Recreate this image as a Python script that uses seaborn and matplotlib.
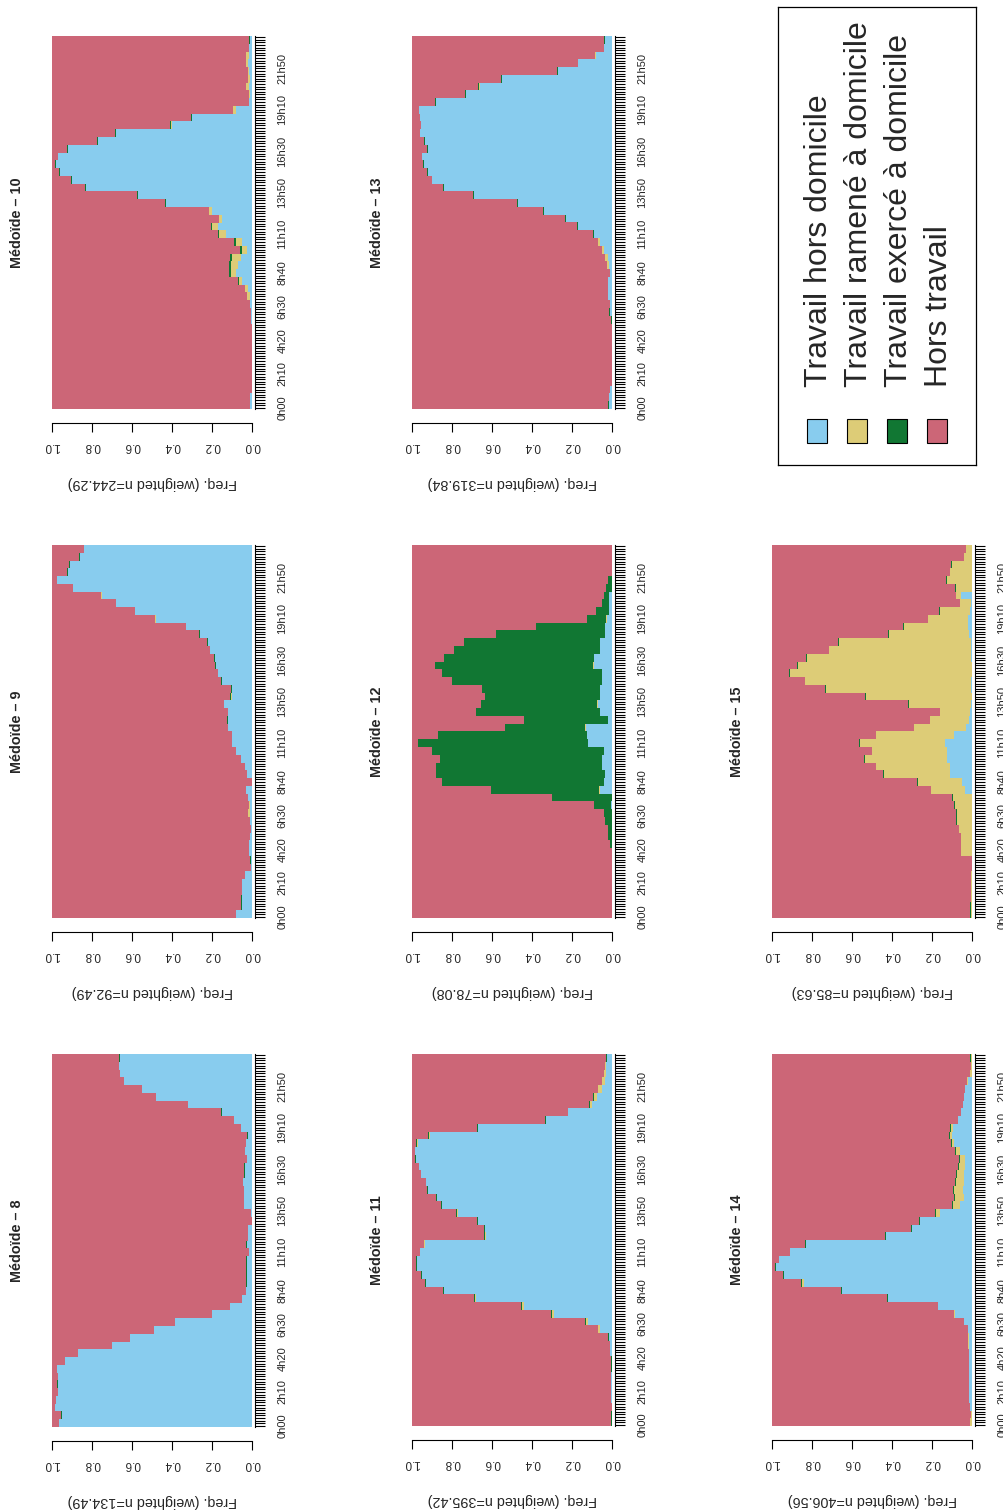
import numpy as np
import pandas as pd
import matplotlib
matplotlib.use('Agg')
import matplotlib.pyplot as plt
from matplotlib.patches import Rectangle
import seaborn as sns

# states, bottom of the stack first
states = ['Travail hors domicile', 'Travail ramené à domicile',
          'Travail exercé à domicile', 'Hors travail']
colors = ['#88CCEE', '#DDCC77', '#117733', '#CC6677']

hour_labels = ['0h00', '2h10', '4h20', '6h30', '8h40', '11h10',
               '13h50', '16h30', '19h10', '21h50']
freq_ticks = [0.0, 0.2, 0.4, 0.6, 0.8, 1.0]

# share of sequences (%) per half-hour, 0h00 -> 23h30; "Hors travail" is the rest
m8_blue = [96.5, 95, 98.5, 98, 97, 97, 97, 97.5, 93.5, 87,
           70, 61, 49, 38.5, 20, 11, 5, 3, 2.6, 2.5,
           2.5, 2.5, 1.5, 2.5, 1.8, 1.8, 0, 0.6, 3.8, 3.8,
           3.8, 4.5, 3.5, 3.5, 2.7, 3.5, 3, 2.2, 5.5, 9,
           15, 32, 48, 55, 64, 66, 66.5, 66]
m8_yellow = [0, 0, 0, 0, 0, 0, 0, 0, 0, 0, 0, 0, 0, 0, 0, 0, 0, 0, 0, 0, 0, 0, 0, 0,
             0, 0, 0, 0, 0, 0, 0, 0, 0, 0, 0, 0, 0, 0, 0, 0, 0, 0, 0, 0, 0, 0, 0, 0]
m8_green = [0, 0.4, 0, 0, 0, 0.4, 0, 0, 0, 0, 0, 0, 0, 0, 0, 0, 0, 0, 0.4, 0.4, 0.4, 0.4, 0, 0.4,
            0, 0, 0, 0, 0.4, 0.4, 0.4, 0, 0.4, 0.4, 0, 0, 0, 0.4, 0, 0, 0.4, 0, 0, 0, 0, 0, 0, 0.4]

m9_blue = [8, 5, 5, 5, 5, 3.5, 0.5, 0.5, 1.5, 1.5,
           1.2, 0.5, 1, 1, 1.2, 2, 3, 0, 2.5, 3.5,
           5.5, 8, 10, 10, 12, 12, 12, 14, 10, 10,
           15, 17, 18, 18.5, 21, 22, 26, 33, 48, 58.5,
           68, 75, 89.5, 97.5, 92, 91, 86, 84]
m9_yellow = [0, 0, 0, 0, 0, 0, 0, 0, 0, 0, 0, 0, 0, 1, 0.5, 0, 0, 0, 0, 0, 0, 0, 0, 0,
             0, 0, 0, 0, 0.5, 0, 0, 0, 0, 0, 0, 0, 0, 0, 0.3, 0, 0, 0.5, 0, 0, 0, 0, 0, 0]
m9_green = [0, 0.3, 0.3, 0, 0, 0, 0, 0.3, 0, 0, 0, 0, 0, 0, 0, 0, 0, 0, 0, 0, 0, 0, 0, 0,
            0, 0.4, 0, 0, 0.4, 0.4, 0.4, 0, 0.4, 0.4, 0, 0.4, 0.4, 0, 0.4, 0, 0, 0, 0, 0, 0.4, 0.4, 0.4, 0]

m10_blue = [1, 1, 0, 0, 0, 0, 0, 0, 0, 0,
            0, 0.5, 0.5, 1, 1, 2, 5, 8, 7, 5.5,
            2.7, 5, 13, 17, 15, 20, 43, 57, 83, 90,
            96, 98, 97, 92, 77, 68, 40, 30, 8, 1.5,
            1, 1.5, 1, 1.5, 2, 1.5, 1.5, 1]
m10_yellow = [0, 0, 0, 0, 0, 0, 0, 0, 0, 0, 0, 0, 0, 0, 1.5, 1.5, 1.5, 2.5, 3.5, 4.5, 2.5, 3, 3.5, 3,
              1.5, 1.5, 0, 0, 0, 0, 0, 0, 0, 0, 0, 0, 0.5, 0, 1.5, 0, 0.5, 1.5, 1, 0.5, 1, 1.5, 0, 0]
m10_green = [0, 0, 0, 0, 0, 0, 0, 0, 0, 0, 0, 0, 0, 0, 0, 0, 0.7, 1, 1, 1, 1, 1, 0.7, 0.5,
             0, 0, 0.4, 0.4, 0.4, 0.4, 0.4, 0.4, 0, 0.4, 0.4, 0.4, 0.4, 0.4, 0, 0, 0, 0, 0, 0, 0, 0, 0, 0.4]

m11_blue = [0, 0, 0, 0.5, 0.5, 0.5, 0.5, 0, 0, 0.8,
            1, 1.3, 6, 12, 29, 44, 68, 84, 93, 95,
            97.5, 97.5, 96, 93.5, 63, 63.5, 67, 77, 85, 87.5,
            92, 93, 95.5, 96.5, 98, 98.5, 97, 91, 67, 33,
            22, 10, 7.5, 5, 3.5, 3, 3, 2.5]
m11_yellow = [0, 0, 0, 0, 0, 0, 0, 0, 0, 0, 0, 0, 1, 1, 1, 1, 0.5, 0, 0, 0, 0, 0, 0, 0.5,
              0.5, 0, 0, 0.5, 0, 0, 0, 0, 0, 0, 0, 0, 0.5, 0.5, 0, 0, 0, 1, 1.5, 2, 1.5, 1, 0.5, 0]
m11_green = [0.5, 0.5, 0, 0, 0, 0, 0, 0.5, 0.5, 0, 0, 0.5, 0, 0.4, 0.4, 0.4, 0.4, 0.4, 0.4, 0.4, 0.4, 0.4, 0, 0,
             0.4, 0.4, 0.4, 0.4, 0.4, 0.4, 0.4, 0, 0, 0, 0.4, 0, 0.4, 0.4, 0.4, 0.4, 0, 0.4, 0.4, 0, 0, 0, 0, 0.5]

m12_blue = [0, 0, 0, 0, 0, 0, 0, 0, 0, 0,
            0, 0, 0, 0, 0.5, 0, 6, 4, 3.5, 5,
            5, 4, 12, 12.5, 13, 2, 6, 7, 6, 6,
            5, 5, 9, 9, 6, 6, 3.5, 3.5, 2.5, 1.5,
            1.5, 1.5, 0, 0, 0, 0, 0, 0]
m12_yellow = [0, 0, 0, 0, 0, 0, 0, 0, 0, 0, 0, 0, 0, 0, 0, 0, 0.3, 0, 0, 0, 0, 0, 0, 0,
              0.3, 0, 0, 0.3, 0, 0, 0, 0, 0.3, 0, 0, 0, 0, 0, 0.3, 0, 0, 0, 0, 0, 0, 0, 0, 0]
m12_green = [0, 0, 0, 0, 0, 0, 0, 0, 0, 1,
             2, 2, 3.5, 4, 8.5, 30, 54, 81, 84.5, 83,
             81, 86, 85, 74.5, 40, 42, 62, 58, 57.5, 59,
             75, 80, 79, 75, 73, 68, 54.5, 34.5, 9.5, 6.5,
             3.5, 2.5, 3, 2, 0, 0, 0, 0]

m13_blue = [1.5, 1.3, 1, 0, 0, 0, 0, 0, 0, 0,
            0, 0, 1, 1, 1.8, 2, 2, 1, 1.5, 2,
            4, 6, 9, 17, 23, 34, 47, 69, 84, 90,
            92, 94, 95, 92, 93.5, 96, 95.5, 96, 96.5, 88,
            73, 66, 55, 27, 17, 8, 4, 3.5]
m13_yellow = [0, 0, 0, 0, 0, 0, 0, 0, 0, 0, 0, 0, 0, 0, 0, 0, 0, 0, 1, 1.3, 1, 0.8, 0, 0,
              0, 0, 0, 0, 0, 0, 0, 0, 0, 0, 0, 0, 0, 0, 0, 0, 0, 0.5, 0, 0, 0, 0.5, 0, 0]
m13_green = [0.3, 0, 0, 0, 0, 0, 0, 0, 0, 0, 0, 0.5, 0.5, 0, 0, 0, 0, 0, 0, 0.3, 0, 0, 0.4, 0.4,
             0.4, 0.4, 0.4, 0.4, 0.4, 0, 0.4, 0.4, 0, 0.4, 0.4, 0, 0, 0, 0, 0.4, 0.4, 0.4, 0.4, 0.4, 0, 0, 0, 0.5]

m14_blue = [0, 0, 1, 1.5, 1.5, 1.5, 1.5, 1.5, 1.5, 1.5,
            1.5, 1.5, 1.8, 4, 8.5, 17, 42, 65, 84, 94,
            98, 96.5, 91, 83, 43, 30, 26, 16, 6, 4,
            4.5, 4, 4, 3.5, 3.5, 6, 9, 10, 9.5, 7,
            5.5, 4.5, 4, 3.5, 2, 0, 0, 0]
m14_yellow = [1, 0.5, 0, 0, 0, 0, 0, 0, 0, 0, 0.5, 0.5, 0, 0, 0.5, 0, 0, 0, 1, 0, 0, 0, 0, 0,
              0, 0, 0, 2, 3.5, 4.5, 4.5, 4, 3.5, 3, 2.5, 2, 1, 1, 1, 0, 0, 0, 0, 0, 0.5, 1, 0.5, 0.5]
m14_green = [0, 0, 0, 0, 0, 0, 0, 0, 0, 0, 0, 0, 0, 0, 0, 0, 0.4, 0.4, 0.4, 0.4, 0.4, 0, 0, 0.4,
             0.4, 0.4, 0.4, 0.4, 0.4, 0.4, 0.5, 0.5, 0.5, 0.5, 0.5, 0.5, 0.5, 0.5, 0.5, 0, 0, 0, 0, 0, 0, 0, 0, 0.5]

m15_blue = [0, 0, 0, 0, 0, 0, 0, 0, 0, 0,
            0, 0, 0, 0, 0, 0, 3.5, 5, 11, 11,
            12.5, 12.5, 13.5, 9, 3, 1.5, 1, 0.5, 0, 0.5,
            0.5, 0, 0, 0.5, 0.5, 0.5, 1.5, 2, 2, 1,
            0.5, 5.5, 0, 0, 0, 0, 0, 0]
m15_yellow = [0.5, 0.5, 0.5, 0.5, 0.5, 0.5, 0, 0, 5.5, 5.5,
              5.5, 6.5, 7.5, 7.5, 8.5, 9.5, 17, 22, 33, 37,
              41, 37.5, 42.5, 39, 26, 19.5, 15, 31, 53, 72.5,
              83, 91, 87, 82, 71, 66, 40, 32, 20, 15,
              5.5, 2.5, 8, 12.5, 11, 10, 4, 3]
m15_green = [0.4, 0.4, 0, 0, 0, 0, 0, 0, 0, 0, 0, 0, 0.4, 0.5, 0.4, 0.4, 0, 0.4, 0.4, 0, 0.4, 0, 0.4, 0,
             0, 0, 0, 0.4, 0.4, 0.4, 0, 0.4, 0.4, 0.4, 0, 0.4, 0.4, 0.4, 0, 0.4, 0, 0, 0.4, 0.4, 0, 0.4, 0, 0]

panels = [
    ('Médoïde – 8', 134.49, m8_blue, m8_yellow, m8_green),
    ('Médoïde – 9', 92.49, m9_blue, m9_yellow, m9_green),
    ('Médoïde – 10', 244.29, m10_blue, m10_yellow, m10_green),
    ('Médoïde – 11', 395.42, m11_blue, m11_yellow, m11_green),
    ('Médoïde – 12', 78.08, m12_blue, m12_yellow, m12_green),
    ('Médoïde – 13', 319.84, m13_blue, m13_yellow, m13_green),
    ('Médoïde – 14', 406.56, m14_blue, m14_yellow, m14_green),
    ('Médoïde – 15', 85.63, m15_blue, m15_yellow, m15_green),
]

# page is drawn turned a quarter turn: pixel boxes (left, top, height), width 200
boxes = [(52, 1054, 373), (52, 545, 373), (52, 36, 373),
         (412, 1054, 372), (412, 545, 373), (412, 36, 373),
         (772, 1054, 372), (772, 545, 373)]

W, H = 1004, 1510


def px(x0, y0, w, h):
    return [x0 / W, 1 - (y0 + h) / H, w / W, h / H]


sns.set_style('white')
plt.rcParams['font.family'] = ['Liberation Sans', 'DejaVu Sans']

fig = plt.figure(figsize=(W / 100, H / 100), dpi=100)

n_steps = 48
t_mid = np.arange(n_steps) * 3 + 1.5   # in 10-minute units
palette = dict(zip(states, colors))

tick_pos = np.arange(144) + 0.5
tick_txt = [''] * 144
for lab in hour_labels:
    h, m = lab.split('h')
    tick_txt[(int(h) * 60 + int(m)) // 10] = lab

for (title, n, blue, yellow, green), (x0, y0, h) in zip(panels, boxes):
    ax = fig.add_axes(px(x0, y0, 200, h))
    blue = np.array(blue, float)
    yellow = np.array(yellow, float)
    green = np.array(green, float)
    red = 100 - blue - yellow - green
    df = pd.DataFrame({
        'time': np.tile(t_mid, 4),
        'state': np.repeat(states, n_steps),
        'w': np.concatenate([blue, yellow, green, red]) / 100,
    })
    sns.histplot(data=df, y='time', hue='state', weights='w',
                 binwidth=3, binrange=(0, 144),
                 multiple='fill', hue_order=states[::-1], palette=palette,
                 alpha=1, linewidth=0, antialiased=False, legend=False, ax=ax)

    ax.set_xlim(1, 0)
    ax.set_ylim(0, 144)
    ax.set_xlabel('')
    ax.set_ylabel('')
    ax.spines['top'].set_visible(False)
    ax.spines['left'].set_visible(False)
    ax.spines['bottom'].set_position(('outward', 10))
    ax.spines['right'].set_position(('outward', 2.2))
    for s in ['bottom', 'right']:
        ax.spines[s].set_linewidth(0.8)
        ax.spines[s].set_color('black')

    ax.yaxis.tick_right()
    ax.set_yticks(tick_pos)
    ax.set_yticklabels(tick_txt, rotation=90, fontsize=8)
    for lab in ax.get_yticklabels():
        lab.set_va('center')
    ax.tick_params(axis='y', length=7.2, width=0.8, pad=9, direction='out',
                   right=True, left=False, color='black')

    ax.set_xticks(freq_ticks)
    ax.set_xticklabels([f'{v:.1f}' for v in freq_ticks], rotation=180, fontsize=8.5)
    ax.tick_params(axis='x', length=6.5, width=0.8, pad=6, direction='out',
                   bottom=True, color='black')

    ax.text(0.5, -(483 - 409) / 373, f'Freq. (weighted n={n:.2f})', rotation=180,
            ha='center', va='center', fontsize=10.4, transform=ax.transAxes)
    ax.text(-0.175, 0.5, title, rotation=90, ha='center', va='center',
            fontsize=10.4, fontweight='bold', transform=ax.transAxes)

# legend box
lax = fig.add_axes(px(778, 7, 198, 458))
lax.set_xlim(0, 198)
lax.set_ylim(458, 0)
lax.set_xticks([])
lax.set_yticks([])
for s in lax.spines.values():
    s.set_visible(True)
    s.set_color('black')
    s.set_linewidth(0.9)
for i, (name, col) in enumerate(zip(states, colors)):
    lax.add_patch(Rectangle((29 + 40 * i, 412), 20, 24, facecolor=col,
                            edgecolor='black', linewidth=0.8))
    lax.text(41 + 40 * i, 380, name, rotation=90, ha='center', va='bottom',
             fontsize=23)

fig.savefig('out.png', dpi=100)
